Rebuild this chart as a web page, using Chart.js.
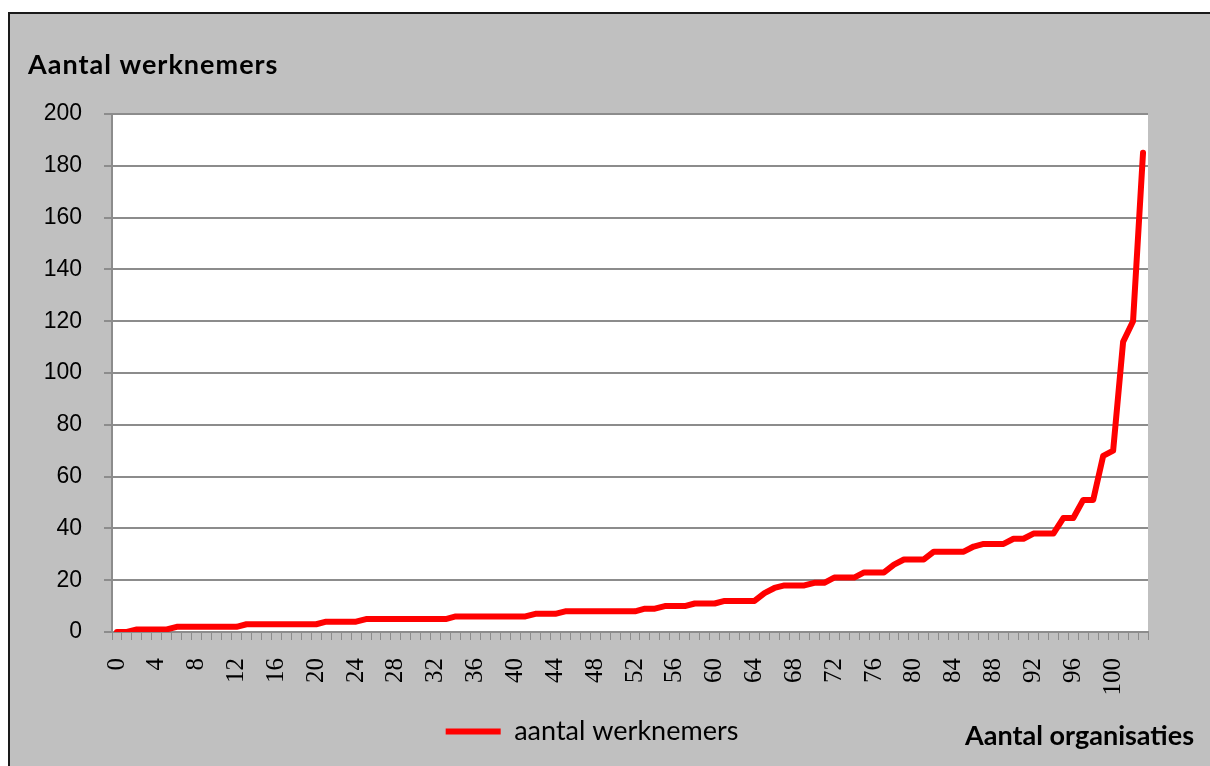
<!DOCTYPE html>
<html>
<head>
<meta charset="utf-8">
<script src="https://cdn.jsdelivr.net/npm/chart.js@4"></script>
<style>
  html, body { margin: 0; padding: 0; background: #fff; }
</style>
</head>
<body>
<canvas id="myChart" width="1210" height="766"></canvas>
<script>
// organisations sorted by number of employees (0 .. 103)
const organisaties = Array.from({ length: 104 }, (_, i) => String(i));
const werknemers = [
  0, 0, 1, 1, 1, 1, 2, 2, 2, 2, 2, 2, 2, 3, 3, 3, 3, 3, 3, 3,
  3, 4, 4, 4, 4, 5, 5, 5, 5, 5, 5, 5, 5, 5, 6, 6, 6, 6, 6, 6,
  6, 6, 7, 7, 7, 8, 8, 8, 8, 8, 8, 8, 8, 9, 9, 10, 10, 10, 11, 11,
  11, 12, 12, 12, 12, 15, 17, 18, 18, 18, 19, 19, 21, 21, 21, 23, 23, 23, 26, 28,
  28, 28, 31, 31, 31, 31, 33, 34, 34, 34, 36, 36, 38, 38, 38, 44, 44, 51, 51, 68,
  70, 112, 120, 185,
];
const yMin = 0;
const yMax = 200;
const yStep = 20;
const labelEvery = 4;

const yTitle = "Aantal werknemers";
const xTitle = "Aantal organisaties";
const seriesName = "aantal werknemers";

const gridGrey = "#8c8c8c";

const background = {
  id: "background",
  beforeDraw(chart) {
    const ctx = chart.ctx;
    const { left, top, right, bottom } = chart.chartArea;
    ctx.save();
    ctx.fillStyle = "#ffffff";
    ctx.fillRect(0, 0, chart.width, chart.height);
    ctx.fillStyle = "#c0c0c0";
    ctx.fillRect(8, 12, chart.width - 8, chart.height - 12);
    ctx.strokeStyle = "#1a1a1a";
    ctx.lineWidth = 2;
    ctx.beginPath();
    ctx.moveTo(9, chart.height);
    ctx.lineTo(9, 13);
    ctx.lineTo(chart.width, 13);
    ctx.stroke();
    ctx.fillStyle = "#ffffff";
    ctx.fillRect(left, top, right - left, bottom - top);
    ctx.restore();
  },
  afterDraw(chart) {
    const ctx = chart.ctx;
    ctx.save();
    ctx.fillStyle = "#000";
    ctx.font = "bold 27px Lato";
    ctx.textBaseline = "alphabetic";
    ctx.textAlign = "left";
    ctx.letterSpacing = "1px";
    ctx.fillText(yTitle, 28, 74);
    ctx.letterSpacing = "0px";
    ctx.fillText(xTitle, 965, 745);
    ctx.restore();
  },
};

const ctx = document.getElementById("myChart").getContext("2d");

const lineChart = new Chart(ctx, {
  type: "line",
  data: {
    labels: organisaties,
    datasets: [
      {
        label: seriesName,
        data: werknemers,
        borderColor: "#ff0000",
        backgroundColor: "#ff0000",
        borderWidth: 6,
        pointRadius: 0,
        tension: 0,
        fill: false,
        borderJoinStyle: "round",
        borderCapStyle: "round",
      },
    ],
  },
  options: {
    responsive: false,
    animation: false,
    layout: {
      padding: { left: 36, right: 62, top: 114, bottom: 11 },
    },
    scales: {
      x: {
        offset: true,
        afterFit: (scale) => { scale.height = 76; },
        grid: {
          offset: true,
          drawOnChartArea: false,
          drawTicks: true,
          tickLength: 8,
          tickColor: gridGrey,
          lineWidth: 1,
        },
        border: { color: gridGrey, width: 2 },
        ticks: {
          autoSkip: false,
          minRotation: 90,
          maxRotation: 90,
          padding: 18,
          color: "#000",
          font: { family: "Liberation Serif", size: 25 },
          callback: (value, index) => (index % labelEvery === 0 ? organisaties[index] : ""),
        },
      },
      y: {
        min: yMin,
        max: yMax,
        afterFit: (scale) => { scale.width = 76; },
        grid: {
          color: gridGrey,
          lineWidth: 2,
          drawTicks: true,
          tickLength: 8,
          tickColor: gridGrey,
        },
        border: { color: gridGrey, width: 2 },
        ticks: {
          stepSize: yStep,
          padding: 22,
          color: "#000",
          font: { family: "Liberation Sans", size: 23 },
        },
      },
    },
    plugins: {
      tooltip: { enabled: false },
      title: { display: false },
      legend: {
        display: true,
        position: "bottom",
        labels: {
          color: "#000",
          font: { family: "Lato", size: 27 },
          boxWidth: 55,
          boxHeight: 6,
          padding: 10,
          generateLabels: (chart) =>
            Chart.defaults.plugins.legend.labels.generateLabels(chart).map((l) => ({
              ...l,
              fillStyle: "#ff0000",
              strokeStyle: "#ff0000",
              lineWidth: 0,
            })),
        },
      },
    },
  },
  plugins: [background],
});
</script>
</body>
</html>
